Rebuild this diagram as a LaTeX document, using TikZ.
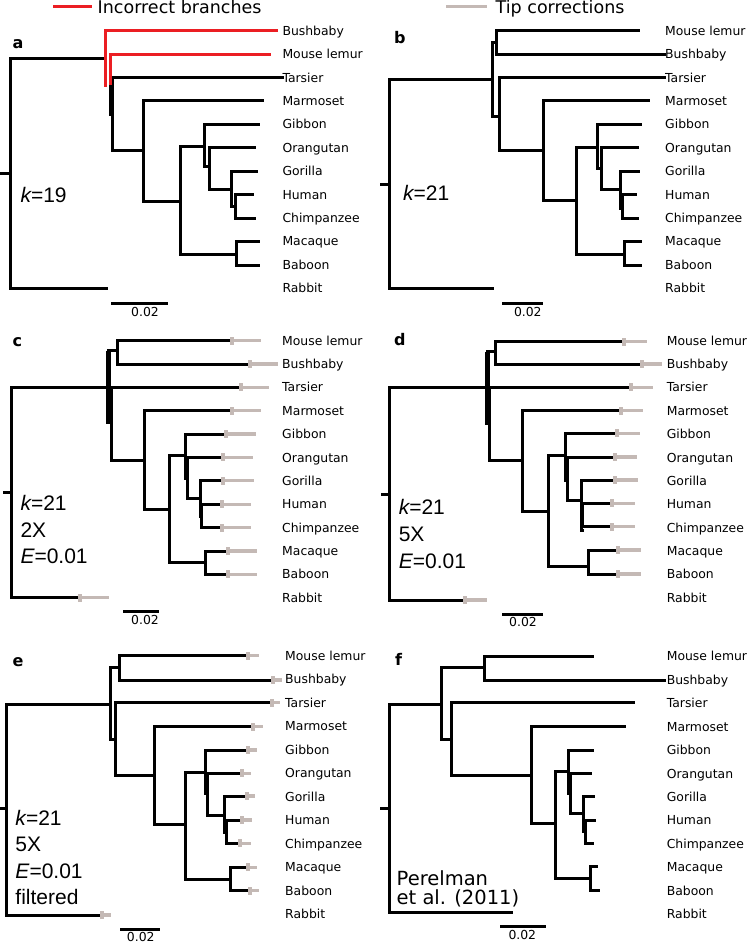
\documentclass[tikz,border=0pt]{standalone}
\usepackage{fontspec}
\setmainfont{DejaVu Sans}
\newfontfamily\lsans{Liberation Sans}
\definecolor{incred}{RGB}{235,30,35}
\definecolor{tipgray}{RGB}{196,185,181}
\tikzset{
  br/.style={line width=3pt, line cap=rect, line join=miter, black},
  thk/.style={line width=4.4pt, line cap=butt, black},
  redbr/.style={line width=3pt, line cap=rect, line join=miter, incred},
  tipln/.style={line width=3.3pt, tipgray, line cap=butt},
  taxon/.style={anchor=base west, inner sep=0pt, font=\fontsize{12.4}{14}\selectfont},
  plet/.style={anchor=base west, inner sep=0pt, font=\fontsize{16}{18}\selectfont\bfseries},
  param/.style={anchor=base west, inner sep=0pt, font=\fontsize{21}{26}\selectfont\lsans},
  perel/.style={anchor=base west, inner sep=0pt, font=\fontsize{19.5}{22}\selectfont},
  sclab/.style={anchor=base, inner sep=0pt, font=\fontsize{12.4}{14}\selectfont},
  legtxt/.style={anchor=base west, inner sep=0pt, font=\fontsize{17.5}{20}\selectfont},
}
\newcommand\tipbar[3]{%
  \draw[tipln] (#1,#3) -- (#2,#3);
  \fill[tipgray] (#1-0.5,#3-4) rectangle (#1+3.5,#3+4);
}
\begin{document}
\begin{tikzpicture}[x=1pt,y=-1pt]
\useasboundingbox (0,0) rectangle (748,943);
\fill[white] (0,0) rectangle (748,943);

% ---------- legend ----------
\coordinate (lr1) at (53,6.7); \coordinate (lr2) at (92,6.7);
\draw[incred, line width=3pt] (lr1) -- (lr2);
\node[legtxt] (legred) at (97.5,13.3) {Incorrect branches};
\coordinate (lg1) at (446,6.5); \coordinate (lg2) at (487,6.5);
\draw[tipgray, line width=3.5pt] (lg1) -- (lg2);
\node[legtxt] (leggray) at (495.5,13.3) {Tip corrections};

% ---------- panel letters ----------
\node[plet] (la) at (12.5,48) {a};
\node[plet] (lb) at (394,43.3) {b};
\node[plet] (lc) at (12.5,346.7) {c};
\node[plet] (ld) at (394,345.7) {d};
\node[plet] (le) at (12.5,666.7) {e};
\node[plet] (lf) at (395,665.7) {f};

% ---------- taxon labels ----------
\foreach \t [count=\i from 0] in {Bushbaby,Mouse lemur,Tarsier,Marmoset,Gibbon,Orangutan,Gorilla,Human,Chimpanzee,Macaque,Baboon,Rabbit}
  \node[taxon] (a-\i) at (282.3,30.7+23.42*\i+4.5) {\t};
\foreach \t [count=\i from 0] in {Mouse lemur,Bushbaby,Tarsier,Marmoset,Gibbon,Orangutan,Gorilla,Human,Chimpanzee,Macaque,Baboon,Rabbit}
  \node[taxon] (b-\i) at (665,30.7+23.42*\i+4.5) {\t};
\foreach \t [count=\i from 0] in {Mouse lemur,Bushbaby,Tarsier,Marmoset,Gibbon,Orangutan,Gorilla,Human,Chimpanzee,Macaque,Baboon,Rabbit}
  \node[taxon] (c-\i) at (282,340.7+23.36*\i+4.5) {\t};
\foreach \t [count=\i from 0] in {Mouse lemur,Bushbaby,Tarsier,Marmoset,Gibbon,Orangutan,Gorilla,Human,Chimpanzee,Macaque,Baboon,Rabbit}
  \node[taxon] (d-\i) at (666.6,340.7+23.36*\i+4.5) {\t};
\foreach \t [count=\i from 0] in {Mouse lemur,Bushbaby,Tarsier,Marmoset,Gibbon,Orangutan,Gorilla,Human,Chimpanzee,Macaque,Baboon,Rabbit}
  \node[taxon] (e-\i) at (285,655.8+23.47*\i+4.5) {\t};
\foreach \t [count=\i from 0] in {Mouse lemur,Bushbaby,Tarsier,Marmoset,Gibbon,Orangutan,Gorilla,Human,Chimpanzee,Macaque,Baboon,Rabbit}
  \node[taxon] (f-\i) at (666.6,656.3+23.45*\i+4.5) {\t};

% ---------- parameter texts ----------
\node[param] (pa) at (20.3,202) {{\itshape k}=19};
\node[param] (pb) at (403,200) {{\itshape k}=21};
\node[param] (pc1) at (20.3,510.7) {{\itshape k}=21};
\node[param] (pc2) at (20.3,537) {2X};
\node[param] (pc3) at (20.3,563.3) {{\itshape E}=0.01};
\node[param] (pd1) at (398.6,514) {{\itshape k}=21};
\node[param] (pd2) at (398.6,541) {5X};
\node[param] (pd3) at (398.6,568.3) {{\itshape E}=0.01};
\node[param] (pe1) at (15.3,825) {{\itshape k}=21};
\node[param] (pe2) at (15.3,851.7) {5X};
\node[param] (pe3) at (15.3,878.3) {{\itshape E}=0.01};
\node[param] (pe4) at (15.3,904) {filtered};
\node[perel] (pf1) at (396.5,885) {Perelman};
\node[perel] (pf2) at (396.5,904.5) {et al. (2011)};

% ---------- scale bars ----------
\draw[br, line cap=butt] (111,303.3) -- (168.3,303.3);
\node[sclab] (sa) at (145,316) {0.02};
\draw[br, line cap=butt] (502.3,303.3) -- (543.3,303.3);
\node[sclab] (sb) at (527.8,316) {0.02};
\draw[br, line cap=butt] (123.3,611.7) -- (159.3,611.7);
\node[sclab] (sc) at (145,624.4) {0.02};
\draw[br, line cap=butt] (502.3,614) -- (543.3,614);
\node[sclab] (sd) at (523,626.7) {0.02};
\draw[br, line cap=butt] (120,929) -- (160,929);
\node[sclab] (se) at (140.8,941.5) {0.02};
\draw[br, line cap=butt] (500,926.7) -- (545.7,926.7);
\node[sclab] (sf) at (522.3,939.4) {0.02};

% ================= panel a =================
\draw[br] (0,173.3) -- (10,173.3);
\draw[br] (104.5,58.3) -- (10,58.3) -- (10,288.3) -- (106,288.3);
\draw[br] (282,77.7) -- (112.7,77.7) -- (112.7,150) -- (143.3,150);
\draw[thk] (110.7,81) -- (110.7,116);
\draw[br] (262.7,100.7) -- (143.3,100.7) -- (143.3,201) -- (180,201);
\draw[br] (204,146.7) -- (180,146.7) -- (180,254.3) -- (236.7,254.3);
\draw[br] (258,241.7) -- (236.7,241.7) -- (236.7,265.7) -- (258,265.7);
\draw[br] (258,124.3) -- (204,124.3) -- (204,166.7) -- (209,166.7);
\draw[br] (254,147.7) -- (209,147.7) -- (209,189.3) -- (231,189.3);
\draw[br] (256,171) -- (231,171) -- (231,206.7) -- (235,206.7);
\draw[br] (252.7,194.3) -- (235,194.3) -- (235,218.3) -- (254,218.3);
\draw[redbr] (105.3,85) -- (105.3,30.7) -- (276.7,30.7);
\draw[redbr] (110.3,83) -- (110.3,54.3) -- (269,54.3);

% ================= panel b =================
\draw[br] (381.3,184) -- (389,184);
\draw[br] (492.3,79) -- (389,79) -- (389,288.3) -- (492.3,288.3);
\draw[br] (492.3,42.7) -- (492.3,116);
\draw[br] (492.3,42.7) -- (496.3,42.7);
\draw[br] (638.3,30.7) -- (496.3,30.7) -- (496.3,54.3) -- (664,54.3);
\draw[br] (492.3,116) -- (499,116);
\draw[br] (664,77.7) -- (499,77.7) -- (499,150) -- (543,150);
\draw[br] (648,100.7) -- (543,100.7) -- (543,200.7) -- (576.7,200.7);
\draw[br] (597.3,147) -- (576.7,147) -- (576.7,254.3) -- (624,254.3);
\draw[br] (640.7,241.7) -- (624,241.7) -- (624,265.7) -- (640.7,265.7);
\draw[br] (640,124.3) -- (597.3,124.3) -- (597.3,168.3) -- (601.7,168.3);
\draw[br] (637.3,147.7) -- (601.7,147.7) -- (601.7,189.3) -- (620,189.3);
\draw[br] (638.3,171) -- (620,171) -- (620,208.3) -- (622,208.3);
\draw[br] (635.7,194.3) -- (622,194.3) -- (622,218.3) -- (637.3,218.3);

% ================= panel c =================
\draw[br] (4,492.3) -- (11.7,492.3);
\draw[br] (239.3,387.3) -- (11.7,387.3) -- (11.7,597.7) -- (78.3,597.7);
\draw[thk] (108.3,350.7) -- (108.3,424);
\draw[br] (111.7,387.3) -- (111.7,460) -- (144,460);
\draw[br] (108.3,350.7) -- (117.3,350.7);
\draw[br] (230,340.7) -- (117.3,340.7) -- (117.3,364) -- (248.3,364);
\draw[br] (230,410.7) -- (144,410.7) -- (144,509.3) -- (169,509.3);
\draw[br] (185,455) -- (169,455) -- (169,562.7) -- (205.7,562.7);
\draw[br] (226.7,551) -- (205.7,551) -- (205.7,574.3) -- (226.7,574.3);
\draw[br] (224,434) -- (185,434) -- (185,478);
\draw[br] (221.7,457.3) -- (187.3,457.3) -- (187.3,498.3) -- (200,498.3);
\draw[br] (221.7,480.7) -- (200,480.7) -- (200,516) -- (201.7,516);
\draw[br] (220,504.3) -- (201.7,504.3) -- (201.7,527.7) -- (220,527.7);
\tipbar{230}{261}{340.7}
\tipbar{248.3}{278.3}{364}
\tipbar{239.3}{269.3}{387.3}
\tipbar{230}{261}{410.7}
\tipbar{224}{255.7}{434}
\tipbar{221.7}{253.3}{457.3}
\tipbar{221.7}{254}{480.7}
\tipbar{220}{250.7}{504.3}
\tipbar{220}{250.7}{527.7}
\tipbar{226.7}{257.3}{551}
\tipbar{226.7}{257.3}{574.3}
\tipbar{78.3}{109}{597.7}

% ================= panel d =================
\draw[br] (382.3,494) -- (389,494);
\draw[br] (629,387.3) -- (389,387.3) -- (389,600) -- (463.3,600);
\draw[thk] (487.3,351.7) -- (487.3,425);
\draw[br] (489,387.3) -- (489,460) -- (522.3,460);
\draw[br] (487.3,351.7) -- (495.7,351.7);
\draw[br] (622.3,341.7) -- (495.7,341.7) -- (495.7,364) -- (640,364);
\draw[br] (619,410.7) -- (522.3,410.7) -- (522.3,511.7) -- (548,511.7);
\draw[br] (565,455) -- (548,455) -- (548,566) -- (588.3,566);
\draw[br] (616.7,550) -- (588.3,550) -- (588.3,574) -- (616.7,574);
\draw[br] (615.7,433.3) -- (565,433.3) -- (565,480);
\draw[br] (613.3,457) -- (567.3,457) -- (567.3,500.7) -- (581.7,500.7);
\draw[br] (613.3,480) -- (581.7,480) -- (581.7,530) -- (582.7,530);
\draw[br] (610.7,503.3) -- (582.7,503.3) -- (582.7,526.7) -- (610.7,526.7);
\tipbar{622.3}{647.3}{341.7}
\tipbar{640}{662.3}{364}
\tipbar{629}{653.3}{387.3}
\tipbar{619}{643.3}{410.7}
\tipbar{615.7}{639.7}{433.3}
\tipbar{613.3}{637.3}{457}
\tipbar{613.3}{638.3}{480}
\tipbar{610.7}{634.7}{503.3}
\tipbar{610.7}{634.7}{526.7}
\tipbar{616.7}{640.7}{550}
\tipbar{616.7}{640.7}{574}
\tipbar{463.3}{487.3}{600}

% ================= panel e =================
\draw[br] (0,808.3) -- (6.7,808.3);
\draw[br] (110,704.3) -- (6.7,704.3) -- (6.7,915) -- (100,915);
\draw[br] (110,667.7) -- (110,739.3);
\draw[br] (110,667.7) -- (119,667.7);
\draw[br] (246.7,655.7) -- (119,655.7) -- (119,680) -- (271.7,680);
\draw[br] (110,739.3) -- (115,739.3);
\draw[br] (270,702.7) -- (115,702.7) -- (115,775) -- (154.3,775);
\draw[br] (251.7,726.7) -- (154.3,726.7) -- (154.3,824) -- (185.7,824);
\draw[br] (205.7,772.3) -- (185.7,772.3) -- (185.7,879) -- (230,879);
\draw[br] (246.7,867.3) -- (230,867.3) -- (230,890.7) -- (248.3,890.7);
\draw[br] (246.7,750) -- (205.7,750) -- (205.7,793.3);
\draw[br] (240,773.3) -- (207.3,773.3) -- (207.3,815) -- (224.3,815);
\draw[br] (245,796) -- (224.3,796) -- (224.3,832.7) -- (226,832.7);
\draw[br] (240,820) -- (226,820) -- (226,843.3) -- (238.3,843.3);
\tipbar{246.7}{259}{655.7}
\tipbar{271.7}{281.7}{680}
\tipbar{270}{280}{702.7}
\tipbar{251.7}{263.3}{726.7}
\tipbar{246.7}{257.3}{750}
\tipbar{240}{250.7}{773.3}
\tipbar{245}{255}{796}
\tipbar{240}{252.3}{820}
\tipbar{238.3}{250.7}{843.3}
\tipbar{246.7}{257.3}{867.3}
\tipbar{248.3}{259.3}{890.7}
\tipbar{100}{110.7}{915}

% ================= panel f =================
\draw[br] (381.3,808.3) -- (389,808.3);
\draw[br] (441.7,704.3) -- (389,704.3) -- (389,912.7) -- (511.7,912.7);
\draw[br] (441.7,667.7) -- (441.7,739);
\draw[br] (441.7,667.7) -- (484.7,667.7);
\draw[br] (592.3,656.3) -- (484.7,656.3) -- (484.7,680) -- (664,680);
\draw[br] (441.7,739) -- (451.7,739);
\draw[br] (633,702.7) -- (451.7,702.7) -- (451.7,775) -- (531.3,775);
\draw[br] (624,726.7) -- (531.3,726.7) -- (531.3,823.3) -- (555.7,823.3);
\draw[br] (568.3,771.7) -- (555.7,771.7) -- (555.7,878.3) -- (590.7,878.3);
\draw[br] (596.7,866.7) -- (590.7,866.7) -- (590.7,890) -- (598,890);
\draw[br] (592.3,750) -- (568.3,750) -- (568.3,793.3);
\draw[br] (590,773.3) -- (570.7,773.3) -- (570.7,813.3) -- (583.3,813.3);
\draw[br] (593,796.7) -- (583.3,796.7) -- (583.3,831.7) -- (585,831.7);
\draw[br] (594,820) -- (585,820) -- (585,843.3) -- (592.3,843.3);
\end{tikzpicture}
\end{document}
